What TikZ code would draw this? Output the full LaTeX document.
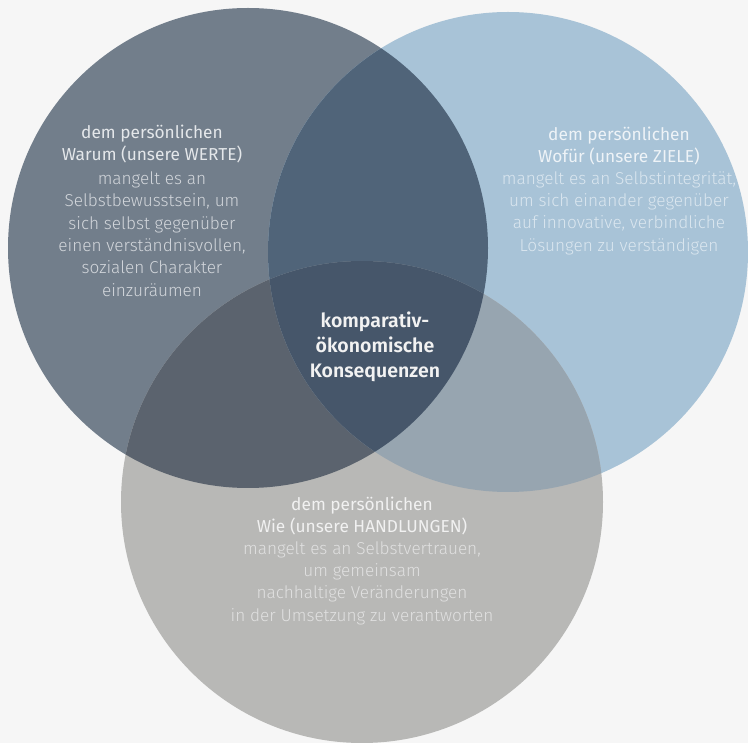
\documentclass[tikz,border=0pt]{standalone}
\usepackage{fontspec}
\setmainfont{Fira Sans Light}[BoldFont=Fira Sans SemiBold]
\newfontfamily\kopffont{Fira Sans}

% Farben
\definecolor{hintergrund}{HTML}{F6F6F6}
\definecolor{wertecol}{HTML}{727E8B}
\definecolor{zielecol}{HTML}{A8C3D7}
\definecolor{handlcol}{HTML}{B8B8B6}
\definecolor{wzcol}{HTML}{506479}
\definecolor{whcol}{HTML}{5B636E}
\definecolor{zhcol}{HTML}{97A5B0}
\definecolor{mittecol}{HTML}{46566A}
\definecolor{wertekopf}{HTML}{E4E7EA}
\definecolor{wertetext}{HTML}{D2D6DB}
\definecolor{zielekopf}{HTML}{EEF3F7}
\definecolor{zieletext}{HTML}{DAE6EF}
\definecolor{handlkopf}{HTML}{F1F1F1}
\definecolor{handltext}{HTML}{E0E0E0}

\tikzset{
  kopf/.style={align=center, inner sep=0pt, font=\kopffont\fontsize{17.3}{22.4}\selectfont},
  rumpf/.style={align=center, inner sep=0pt, font=\fontsize{17.2}{22.4}\selectfont},
  mitte/.style={align=center, inner sep=0pt, text=white!95!black, font=\bfseries\fontsize{19.5}{25}\selectfont}
}

\begin{document}
\begin{tikzpicture}[x=1pt, y=-1pt]
\fill[hintergrund] (0,0) rectangle (748,743);

% Mittelpunkte
\coordinate (werte) at (248,248);
\coordinate (ziele) at (508,252);
\coordinate (handl) at (362,502);

% Kreise
\fill[wertecol] (werte) circle[radius=240pt];
\fill[zielecol] (ziele) circle[radius=240pt];
\fill[handlcol] (handl) circle[radius=241pt];

% Schnittflaechen
\begin{scope}
  \clip (werte) circle[radius=240pt];
  \fill[wzcol] (ziele) circle[radius=240pt];
  \fill[whcol] (handl) circle[radius=241pt];
\end{scope}
\begin{scope}
  \clip (ziele) circle[radius=240pt];
  \fill[zhcol] (handl) circle[radius=241pt];
\end{scope}
\begin{scope}
  \clip (werte) circle[radius=240pt];
  \clip (ziele) circle[radius=240pt];
  \fill[mittecol] (handl) circle[radius=241pt];
\end{scope}

% Texte
\node[kopf, text=wertekopf] (wertekopf) at (152,144) {dem persönlichen\\Warum (unsere WERTE)};
\node[rumpf, text=wertetext] (wertetext) at (152,234) {mangelt es an\\Selbstbewusstsein, um\\sich selbst gegenüber\\einen verständnisvollen,\\sozialen Charakter\\einzuräumen};

\node[kopf, text=zielekopf] (zielekopf) at (619,146) {dem persönlichen\\Wofür (unsere ZIELE)};
\node[rumpf, text=zieletext] (zieletext) at (619,213) {mangelt es an Selbstintegrität,\\um sich einander gegenüber\\auf innovative, verbindliche\\Lösungen zu verständigen};

\node[kopf, text=handlkopf] (handlkopf) at (362,516) {dem persönlichen\\Wie (unsere HANDLUNGEN)};
\node[rumpf, text=handltext] (handltext) at (362,583) {mangelt es an Selbstvertrauen,\\um gemeinsam\\nachhaltige Veränderungen\\in der Umsetzung zu verantworten};

\node[mitte] (konsequenzen) at (375,347) {komparativ-\\ökonomische\\Konsequenzen};
\end{tikzpicture}
\end{document}
